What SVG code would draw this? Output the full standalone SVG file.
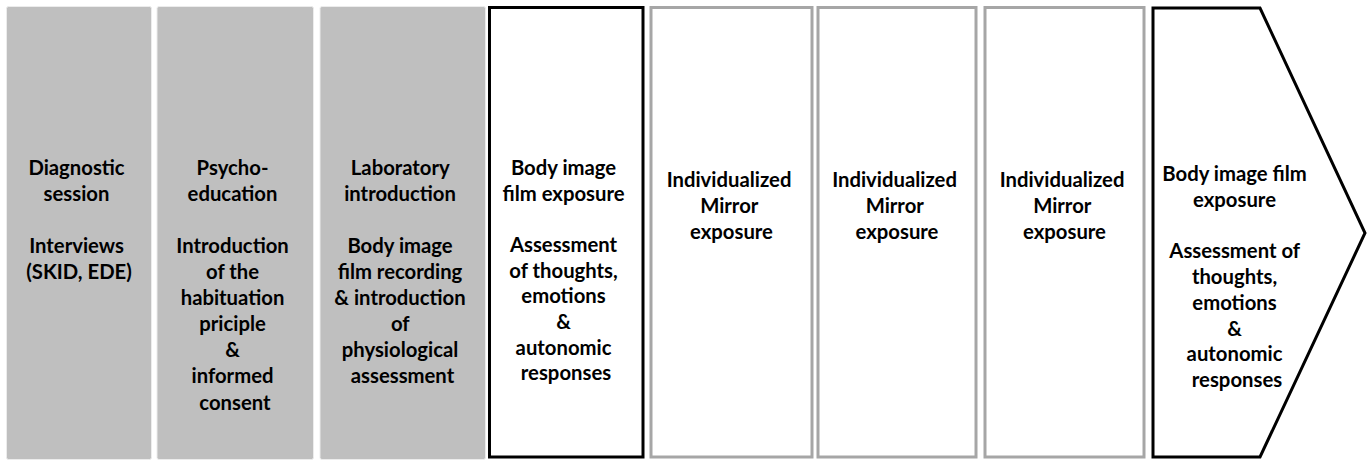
<svg xmlns="http://www.w3.org/2000/svg" width="1368" height="460" viewBox="0 0 1368 460">
  <style>
    .lbl { font-family: Lato, "Liberation Sans", sans-serif; font-weight: 700; font-size: 20.3px; fill: #000000; text-anchor: middle; }
    .prep { fill: #bfbfbf; stroke: #ececec; stroke-width: 1; }
    .key { fill: #ffffff; stroke: #000000; stroke-width: 3; }
    .mirror { fill: #ffffff; stroke: #a6a6a6; stroke-width: 3; }
  </style>
  <rect width="1368" height="460" fill="#ffffff"/>

  <!-- preparation sessions (grey) -->
  <g id="diagnostic">
    <rect class="prep" x="6.5" y="6.5" width="145" height="453" rx="2"/>
    <text class="lbl">
      <tspan x="79" y="175">Diagnostic</tspan>
      <tspan x="79" y="201">session</tspan>
      <tspan x="79" y="253">Interviews</tspan>
      <tspan x="79" y="279">(SKID, EDE)</tspan>
    </text>
  </g>
  <g id="psychoeducation">
    <rect class="prep" x="157" y="6.5" width="156.5" height="453" rx="2"/>
    <text class="lbl">
      <tspan x="235" y="175">Psycho-</tspan>
      <tspan x="235" y="201">education</tspan>
      <tspan x="235" y="253">Introduction</tspan>
      <tspan x="235" y="279">of the</tspan>
      <tspan x="235" y="305">habituation</tspan>
      <tspan x="235" y="331">priciple</tspan>
      <tspan x="235" y="357">&amp;</tspan>
      <tspan x="235" y="383">informed</tspan>
      <tspan x="235" y="410">consent</tspan>
    </text>
  </g>
  <g id="laboratory">
    <rect class="prep" x="320" y="6.5" width="165.5" height="453" rx="2"/>
    <text class="lbl">
      <tspan x="402.5" y="175">Laboratory</tspan>
      <tspan x="402.5" y="201">introduction</tspan>
      <tspan x="402.5" y="253">Body image</tspan>
      <tspan x="402.5" y="279">film recording</tspan>
      <tspan x="402.5" y="305">&amp; introduction</tspan>
      <tspan x="402.5" y="331">of</tspan>
      <tspan x="402.5" y="357">physiological</tspan>
      <tspan x="402.5" y="383">assessment</tspan>
    </text>
  </g>

  <!-- first film exposure -->
  <g id="film-exposure-pre">
    <rect class="key" x="489.5" y="7.5" width="153.5" height="449.5"/>
    <text class="lbl">
      <tspan x="566" y="175">Body image</tspan>
      <tspan x="566" y="200.5">film exposure</tspan>
      <tspan x="566" y="252">Assessment</tspan>
      <tspan x="566" y="277.5">of thoughts,</tspan>
      <tspan x="566" y="303">emotions</tspan>
      <tspan x="566" y="329">&amp;</tspan>
      <tspan x="566" y="354.5">autonomic</tspan>
      <tspan x="566" y="380">responses</tspan>
    </text>
  </g>

  <!-- mirror exposure sessions -->
  <g id="mirror-1">
    <rect class="mirror" x="651" y="7.5" width="161" height="449.5"/>
    <text class="lbl">
      <tspan x="731.5" y="187">Individualized</tspan>
      <tspan x="731.5" y="213">Mirror</tspan>
      <tspan x="731.5" y="239">exposure</tspan>
    </text>
  </g>
  <g id="mirror-2">
    <rect class="mirror" x="818" y="7.5" width="158" height="449.5"/>
    <text class="lbl">
      <tspan x="897" y="187">Individualized</tspan>
      <tspan x="897" y="213">Mirror</tspan>
      <tspan x="897" y="239">exposure</tspan>
    </text>
  </g>
  <g id="mirror-3">
    <rect class="mirror" x="985" y="7.5" width="159" height="449.5"/>
    <text class="lbl">
      <tspan x="1064.5" y="187">Individualized</tspan>
      <tspan x="1064.5" y="213">Mirror</tspan>
      <tspan x="1064.5" y="239">exposure</tspan>
    </text>
  </g>

  <!-- final film exposure (chevron) -->
  <g id="film-exposure-post">
    <polygon class="key" points="1153,8 1260,8 1365,233 1260,457 1153,457" stroke-linejoin="miter"/>
    <text class="lbl">
      <tspan x="1237" y="181">Body image film</tspan>
      <tspan x="1237" y="207">exposure</tspan>
      <tspan x="1237" y="258">Assessment of</tspan>
      <tspan x="1237" y="284">thoughts,</tspan>
      <tspan x="1237" y="310">emotions</tspan>
      <tspan x="1237" y="336">&amp;</tspan>
      <tspan x="1237" y="361">autonomic</tspan>
      <tspan x="1237" y="387">responses</tspan>
    </text>
  </g>
</svg>
